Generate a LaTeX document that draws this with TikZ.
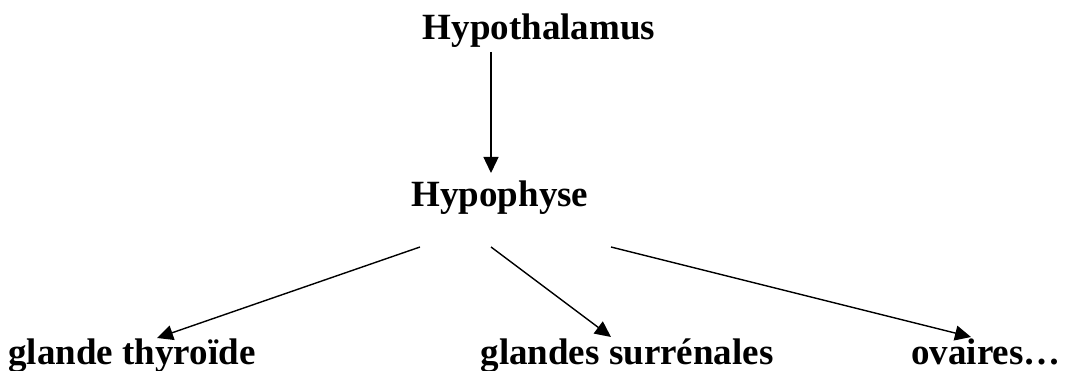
\documentclass[tikz,border=0pt]{standalone}
\usepackage{fontspec}
\setmainfont{Liberation Serif}
\usetikzlibrary{arrows.meta}
\begin{document}
\begin{tikzpicture}[x=1pt,y=-1pt,
  lbl/.style={anchor=base,inner sep=0pt,font=\fontsize{37}{42}\selectfont\bfseries},
  conn/.style={line width=1.4pt,-{Triangle[length=16pt,width=15pt]}}]
\useasboundingbox[fill=white] (0,0) rectangle (1065,371);
\node[lbl] (hth) at (539,40) {Hypothalamus};
\node[lbl] (hph) at (500,207) {Hypophyse};
\node[lbl] (thy) at (132,364) {glande thyroïde};
\node[lbl] (sur) at (627,364) {glandes surrénales};
\node[lbl] (ova) at (986,364) {ovaires…};
\coordinate (s0) at (491,52);
\coordinate (e0) at (491,173);
\coordinate (s1) at (420,247);
\coordinate (e1) at (157,338);
\coordinate (s2) at (491,247);
\coordinate (e2) at (611,337);
\coordinate (s3) at (611,247);
\coordinate (e3) at (971,337);
\draw[conn] (s0) -- (e0);
\draw[conn] (s1) -- (e1);
\draw[conn] (s2) -- (e2);
\draw[conn] (s3) -- (e3);
\end{tikzpicture}
\end{document}
